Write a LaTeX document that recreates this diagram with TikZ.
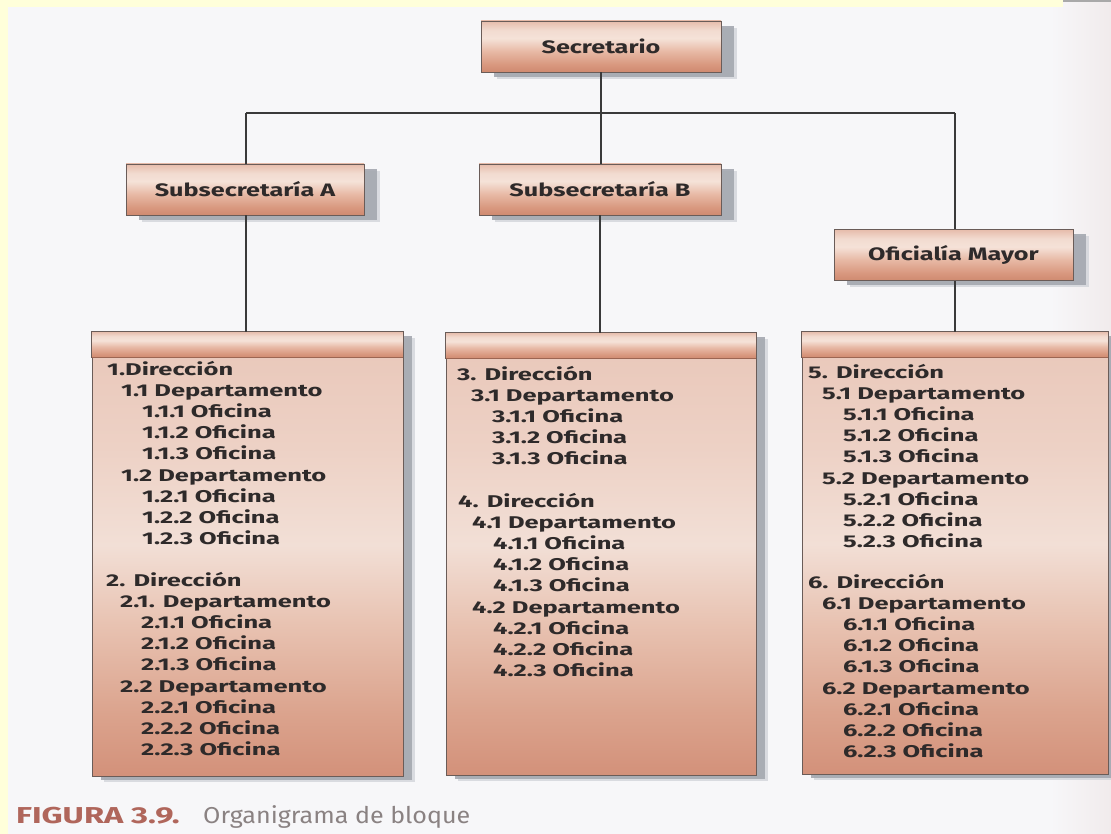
\documentclass[tikz,border=0pt]{standalone}
\usepackage{fontspec}
\usetikzlibrary{calc,shadows}

% wide humanist sans for the chart labels
\newfontfamily\boxfont[FakeStretch=1.5]{Fira Sans}
\newfontfamily\titlefont[FakeStretch=1.4]{Fira Sans}
\newfontfamily\capboldfont[FakeStretch=1.42]{Fira Sans}
\newfontfamily\capfont[FakeStretch=1.09]{Fira Sans}

\definecolor{pagebg}{HTML}{F7F7F9}
\definecolor{pageedge}{HTML}{F1EBEC}
\definecolor{frameyel}{HTML}{FFFFDA}
\definecolor{cornergray}{HTML}{A9A9A9}
\definecolor{edge}{HTML}{6A5C58}
\definecolor{hdrline}{HTML}{9C6552}
\definecolor{wire}{HTML}{3A3A3A}
\definecolor{txt}{HTML}{2E2A2A}
\definecolor{shadowc}{HTML}{A4A8B0}
\definecolor{shadowl}{HTML}{CDD0D6}
\definecolor{capred}{HTML}{B0665B}
\definecolor{capgray}{HTML}{8A8282}
% salmon tones
\definecolor{sA}{HTML}{CF8A70}
\definecolor{sB}{HTML}{D8977E}
\definecolor{sC}{HTML}{E7B8A4}
\definecolor{sD}{HTML}{F5E2D8}
\definecolor{sE}{HTML}{F2DBD0}
\definecolor{sF}{HTML}{E6BCAB}
\definecolor{bA}{HTML}{D3917A}
\definecolor{bB}{HTML}{DBA38D}
\definecolor{bC}{HTML}{E8C2B1}
\definecolor{bD}{HTML}{F2DFD6}
\definecolor{bE}{HTML}{EDD1C5}
\definecolor{bF}{HTML}{E9C7B9}

% salmon boxes: dark base, light band, pink top
\pgfdeclareverticalshading{smallshade}{100bp}{%
  color(0bp)=(sA); color(25bp)=(sA); color(32bp)=(sB); color(45bp)=(sC);
  color(58bp)=(sD); color(66bp)=(sE); color(75bp)=(sF); color(100bp)=(sF)}
\pgfdeclareverticalshading{bodyshade}{100bp}{%
  color(0bp)=(bA); color(25bp)=(bA); color(32bp)=(bB); color(42bp)=(bC);
  color(51bp)=(bD); color(62bp)=(bE); color(75bp)=(bF); color(100bp)=(bF)}

\tikzset{
  titlebox/.style={draw=edge, line width=0.8pt, shade, shading=smallshade,
    drop shadow={shadow xshift=16pt, shadow yshift=-7pt, fill=shadowl, opacity=0.7},
    drop shadow={shadow xshift=13pt, shadow yshift=-5pt, fill=shadowc, opacity=0.9},
    font=\titlefont\bfseries\fontsize{18}{22}\selectfont, text=txt,
    inner sep=0pt, minimum height=51pt},
  listbox/.style={draw=edge, line width=0.8pt, shade, shading=bodyshade,
    drop shadow={shadow xshift=12pt, shadow yshift=-6pt, fill=shadowl, opacity=0.7},
    drop shadow={shadow xshift=9pt, shadow yshift=-4pt, fill=shadowc, opacity=0.9},
    inner sep=0pt},
  header/.style={draw=edge, line width=0.8pt, shade, shading=smallshade},
  entry/.style={anchor=base west, inner sep=0pt, text=txt,
    font=\boxfont\bfseries\fontsize{17}{21}\selectfont},
  wire/.style={draw=wire, line width=1.8pt}
}

% one block of indented lines: name prefix, left x, first baseline, offset/text list
\newcommand\blocklines[4]{%
  \foreach \dx/\tx [count=\i] in {#4}
    \node[entry] (#1\i) at ({#2+\dx},{#3+21.1*(\i-1)}) {\tx};}

\begin{document}
\begin{tikzpicture}[x=1pt,y=-1pt]
\useasboundingbox (0,0) rectangle (1111,834);

% page
\fill[pagebg] (0,0) rectangle (1111,834);
\shade[left color=pagebg, right color=pageedge] (1050,0) rectangle (1111,834);
\fill[frameyel] (0,0) rectangle (1063,7);
\fill[frameyel] (0,0) rectangle (8,834);
\fill[cornergray] (1063,0) rectangle (1111,2);

% title boxes
\node[titlebox, minimum width=240pt] (sec)  at (601,46.5)  {Secretario};
\node[titlebox, minimum width=238pt] (subA) at (245,189.5) {Subsecretaría A};
\node[titlebox, minimum width=242pt] (subB) at (600,189.5) {Subsecretaría B};
\node[titlebox, minimum width=239pt] (ofm)  at (953.5,255) {Oficialía Mayor};

% list boxes
\node[listbox, minimum width=311pt, minimum height=444pt] (box1) at (247.5,554) {};
\node[listbox, minimum width=310pt, minimum height=442pt] (box2) at (601,554) {};
\node[listbox, minimum width=306pt, minimum height=442pt] (box3) at (955,553) {};

\foreach \b in {box1,box2,box3}{
  \path[header] (\b.north west) rectangle ($(\b.north east)+(0,26)$);
  \draw[draw=hdrline, line width=1.2pt]
    ($(\b.north west)+(0,26)$) -- ($(\b.north east)+(0,26)$);
}

% connectors
\coordinate (busA) at (246,113);
\coordinate (busC) at (955,113);
\draw[wire] (busA) -- (busC);
\draw[wire] (sec.south) -- (sec.south |- subB.north);
\draw[wire] (busA) -- (busA |- subA.north);
\draw[wire] (busC) -- (busC |- ofm.north);
\draw[wire] (busA |- subA.south) -- (busA |- box1.north);
\draw[wire] (subB.south) -- (subB.south |- box2.north);
\draw[wire] (busC |- ofm.south) -- (busC |- box3.north);

% box contents
\blocklines{la}{107}{375.5}{0/1.Dirección, 14/1.1 Departamento, 35/1.1.1 Oficina,
  35/1.1.2 Oficina, 35/1.1.3 Oficina, 14/1.2 Departamento, 35/1.2.1 Oficina,
  35/1.2.2 Oficina, 35/1.2.3 Oficina}
\blocklines{lb}{106}{586.5}{0/2. Dirección, 14/2.1. Departamento, 35/2.1.1 Oficina,
  35/2.1.2 Oficina, 35/2.1.3 Oficina, 14/2.2 Departamento, 35/2.2.1 Oficina,
  35/2.2.2 Oficina, 35/2.2.3 Oficina}
\blocklines{ma}{457}{380.5}{0/3. Dirección, 14/3.1 Departamento, 35/3.1.1 Oficina,
  35/3.1.2 Oficina, 35/3.1.3 Oficina}
\blocklines{mb}{458}{507.5}{0/4. Dirección, 14/4.1 Departamento, 35/4.1.1 Oficina,
  35/4.1.2 Oficina, 35/4.1.3 Oficina, 14/4.2 Departamento, 35/4.2.1 Oficina,
  35/4.2.2 Oficina, 35/4.2.3 Oficina}
\blocklines{ra}{808}{378.5}{0/5. Dirección, 14/5.1 Departamento, 35/5.1.1 Oficina,
  35/5.1.2 Oficina, 35/5.1.3 Oficina, 14/5.2 Departamento, 35/5.2.1 Oficina,
  35/5.2.2 Oficina, 35/5.2.3 Oficina}
\blocklines{rb}{808}{588.5}{0/6. Dirección, 14/6.1 Departamento, 35/6.1.1 Oficina,
  35/6.1.2 Oficina, 35/6.1.3 Oficina, 14/6.2 Departamento, 35/6.2.1 Oficina,
  35/6.2.2 Oficina, 35/6.2.3 Oficina}

% caption
\node[anchor=base west, inner sep=0pt, text=capred,
  font=\capboldfont\bfseries\fontsize{23}{27}\selectfont] (capA) at (16,823) {FIGURA 3.9.};
\node[anchor=base west, inner sep=0pt, text=capgray,
  font=\capfont\fontsize{23}{27}\selectfont] (capB) at (203,823) {Organigrama de bloque};
\end{tikzpicture}
\end{document}
